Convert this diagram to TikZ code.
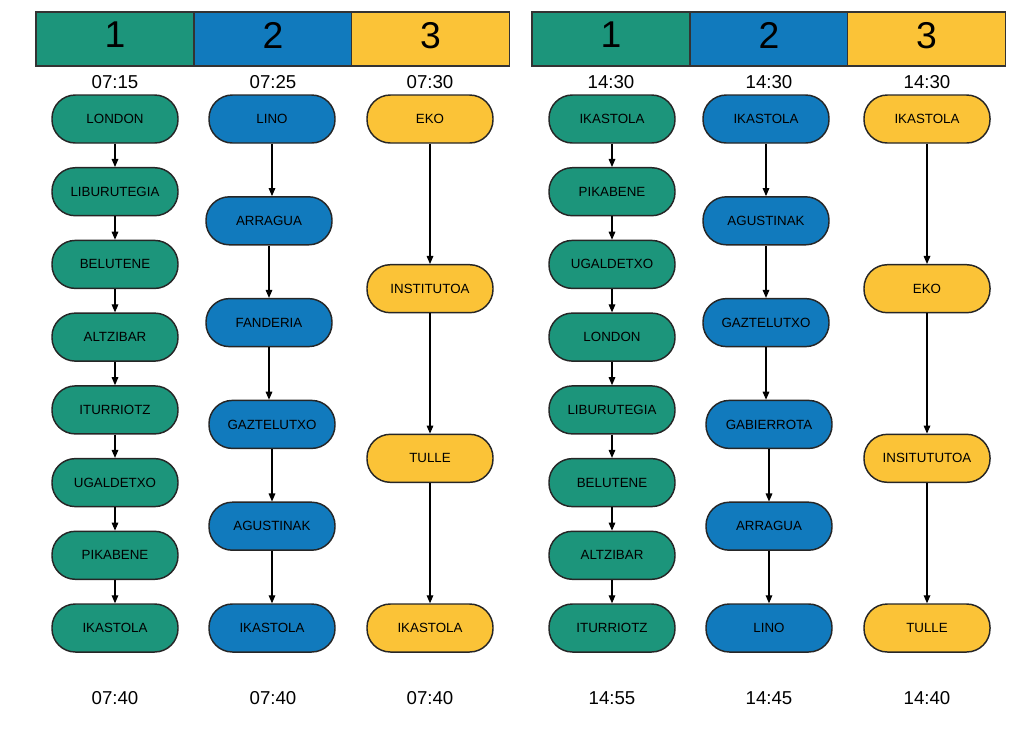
\documentclass[tikz,border=0pt]{standalone}
\usepackage{fontspec}
\setmainfont{Liberation Sans}
\usetikzlibrary{arrows.meta,positioning}
\definecolor{busgreen}{HTML}{1C957B}
\definecolor{busblue}{HTML}{117ABD}
\definecolor{busyellow}{HTML}{FBC337}
\tikzset{every picture/.style={line width=0.75pt}}
\tikzset{
  busstop/.style={draw=black!85, line width=1.1pt, rounded corners=17.5pt,
    minimum width=94.5pt, minimum height=36pt, inner sep=0pt,
    font=\fontsize{10}{12}\selectfont},
  linebox/.style={draw=black!80, line width=0.8pt, minimum width=118.5pt,
    minimum height=40.5pt, inner sep=0pt, text depth=6pt,
    font=\fontsize{28}{32}\selectfont},
  hour/.style={font=\fontsize{14}{16}\selectfont},
  arr/.style={-{Triangle[length=6pt,width=5pt]}, line width=0.8pt}
}
\begin{document}
\begin{tikzpicture}[x=0.75pt,y=-0.75pt]
\useasboundingbox (0,0) rectangle (1030,751);
% morning
\node[linebox, fill=busgreen] (h1) at (115,39) {1};
\node[linebox, fill=busblue] (h2) at (273,39) {2};
\node[linebox, fill=busyellow] (h3) at (430.5,39) {3};
\node[hour] (t1) at (115,82) {07:15};
\node[hour] (t2) at (273,82) {07:25};
\node[hour] (t3) at (430,82) {07:30};
%
\node[busstop, fill=busgreen] (a1) at (115,119) {LONDON};
\node[busstop, fill=busgreen] (a2) at (115,191.7) {LIBURUTEGIA};
\node[busstop, fill=busgreen] (a3) at (115,264.4) {BELUTENE};
\node[busstop, fill=busgreen] (a4) at (115,337.1) {ALTZIBAR};
\node[busstop, fill=busgreen] (a5) at (115,409.9) {ITURRIOTZ};
\node[busstop, fill=busgreen] (a6) at (115,482.6) {UGALDETXO};
\node[busstop, fill=busgreen] (a7) at (115,555.3) {PIKABENE};
\node[busstop, fill=busgreen] (a8) at (115,628) {IKASTOLA};
%
\node[busstop, fill=busblue] (b1) at (272,119) {LINO};
\node[busstop, fill=busblue] (b2) at (269,220.8) {ARRAGUA};
\node[busstop, fill=busblue] (b3) at (269,322.6) {FANDERIA};
\node[busstop, fill=busblue] (b4) at (272,424.4) {GAZTELUTXO};
\node[busstop, fill=busblue] (b5) at (272,526.2) {AGUSTINAK};
\node[busstop, fill=busblue] (b6) at (272,628) {IKASTOLA};
%
\node[busstop, fill=busyellow] (c1) at (430,119) {EKO};
\node[busstop, fill=busyellow] (c2) at (430,288.7) {INSTITUTOA};
\node[busstop, fill=busyellow] (c3) at (430,458.3) {TULLE};
\node[busstop, fill=busyellow] (c4) at (430,628) {IKASTOLA};
%
\node[hour] (e1) at (115,698) {07:40};
\node[hour] (e2) at (273,698) {07:40};
\node[hour] (e3) at (430,698) {07:40};
%
\draw[arr] (a1) -- (a2);
\draw[arr] (a2) -- (a3);
\draw[arr] (a3) -- (a4);
\draw[arr] (a4) -- (a5);
\draw[arr] (a5) -- (a6);
\draw[arr] (a6) -- (a7);
\draw[arr] (a7) -- (a8);
\draw[arr] (b1.south) -- (b1.south |- b2.north);
\draw[arr] (b2) -- (b3);
\draw[arr] (b3.south) -- (b3.south |- b4.north);
\draw[arr] (b4) -- (b5);
\draw[arr] (b5) -- (b6);
\draw[arr] (c1) -- (c2);
\draw[arr] (c2) -- (c3);
\draw[arr] (c3) -- (c4);
% afternoon
\node[linebox, fill=busgreen] (h4) at (611,39) {1};
\node[linebox, fill=busblue] (h5) at (769,39) {2};
\node[linebox, fill=busyellow] (h6) at (926.5,39) {3};
\node[hour] (t4) at (611,82) {14:30};
\node[hour] (t5) at (769,82) {14:30};
\node[hour] (t6) at (927,82) {14:30};
%
\node[busstop, fill=busgreen] (d1) at (612,119) {IKASTOLA};
\node[busstop, fill=busgreen] (d2) at (612,191.7) {PIKABENE};
\node[busstop, fill=busgreen] (d3) at (612,264.4) {UGALDETXO};
\node[busstop, fill=busgreen] (d4) at (612,337.1) {LONDON};
\node[busstop, fill=busgreen] (d5) at (612,409.9) {LIBURUTEGIA};
\node[busstop, fill=busgreen] (d6) at (612,482.6) {BELUTENE};
\node[busstop, fill=busgreen] (d7) at (612,555.3) {ALTZIBAR};
\node[busstop, fill=busgreen] (d8) at (612,628) {ITURRIOTZ};
%
\node[busstop, fill=busblue] (f1) at (766,119) {IKASTOLA};
\node[busstop, fill=busblue] (f2) at (766,220.8) {AGUSTINAK};
\node[busstop, fill=busblue] (f3) at (766,322.6) {GAZTELUTXO};
\node[busstop, fill=busblue] (f4) at (769,424.4) {GABIERROTA};
\node[busstop, fill=busblue] (f5) at (769,526.2) {ARRAGUA};
\node[busstop, fill=busblue] (f6) at (769,628) {LINO};
%
\node[busstop, fill=busyellow] (g1) at (927,119) {IKASTOLA};
\node[busstop, fill=busyellow] (g2) at (927,288.7) {EKO};
\node[busstop, fill=busyellow] (g3) at (927,458.3) {INSITUTUTOA};
\node[busstop, fill=busyellow] (g4) at (927,628) {TULLE};
%
\node[hour] (e4) at (612,698) {14:55};
\node[hour] (e5) at (769,698) {14:45};
\node[hour] (e6) at (927,698) {14:40};
%
\draw[arr] (d1) -- (d2);
\draw[arr] (d2) -- (d3);
\draw[arr] (d3) -- (d4);
\draw[arr] (d4) -- (d5);
\draw[arr] (d5) -- (d6);
\draw[arr] (d6) -- (d7);
\draw[arr] (d7) -- (d8);
\draw[arr] (f1) -- (f2);
\draw[arr] (f2) -- (f3);
\draw[arr] (f3.south) -- (f3.south |- f4.north);
\draw[arr] (f4) -- (f5);
\draw[arr] (f5) -- (f6);
\draw[arr] (g1) -- (g2);
\draw[arr] (g2) -- (g3);
\draw[arr] (g3) -- (g4);
\end{tikzpicture}
\end{document}
